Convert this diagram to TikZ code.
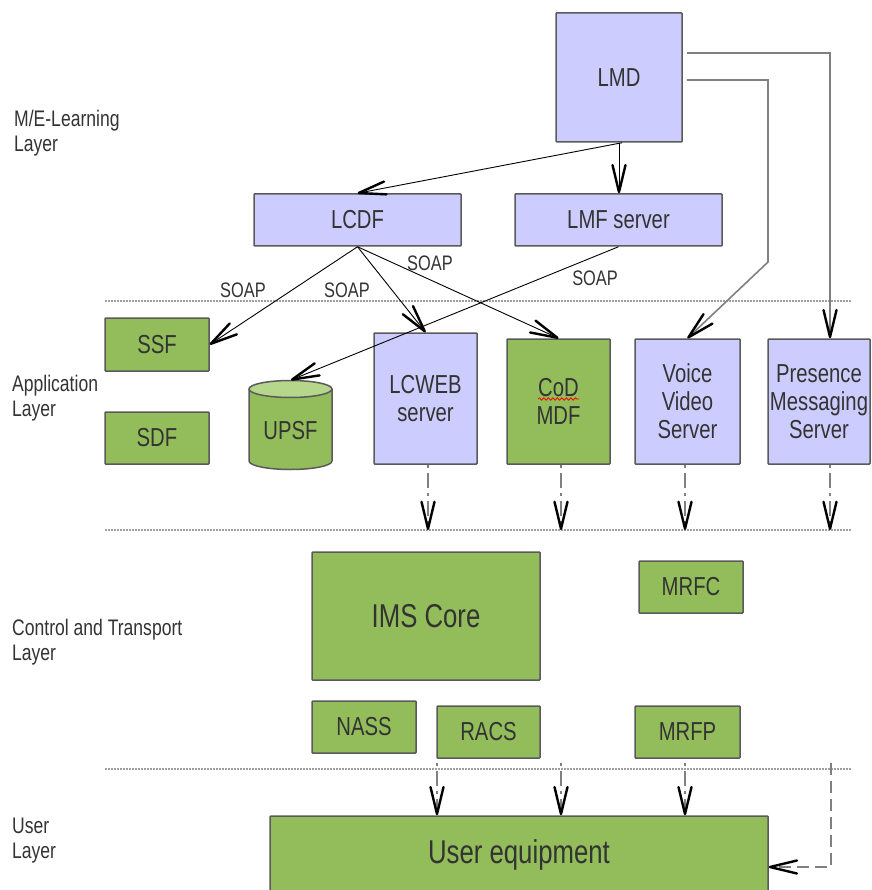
\documentclass[tikz,border=0pt]{standalone}
\usepackage{fontspec}
\setmainfont[FakeStretch=0.78]{Liberation Sans}
\usetikzlibrary{arrows.meta,decorations.pathmorphing}

\definecolor{lav}{HTML}{CCCCFF}
\definecolor{grn}{HTML}{92BD5A}
\definecolor{grnlt}{HTML}{B6D68C}
\definecolor{edge}{HTML}{5A5A5A}
\definecolor{ink}{HTML}{333333}
\definecolor{wire}{HTML}{808080}

\begin{document}
\begin{tikzpicture}[x=1pt,y=-1pt,
  font=\fontsize{26}{28}\selectfont,
  box/.style={draw=edge, line width=1.5pt, text=ink, inner sep=0pt, align=center, rounded corners=0.8pt},
  lavbox/.style={box, fill=lav},
  grnbox/.style={box, fill=grn},
  headed/.style={-{Straight Barb[length=27pt,width=13pt,line width=2.4pt,round,color=black]}},
  link/.style={headed, line width=0.9pt, draw=black},
  feed/.style={headed, line width=1.6pt, draw=wire},
  dashlink/.style={headed, line width=1.4pt, draw=wire, dash pattern=on 3pt off 5pt on 15pt off 5pt},
  dashfeed/.style={headed, line width=1.4pt, draw=wire, dash pattern=on 12pt off 6pt},
  layerline/.style={draw=gray!75, line width=1.5pt, dash pattern=on 1.5pt off 1.5pt},
  layername/.style={text=ink, align=left, anchor=base west, inner sep=0pt, font=\fontsize{22.5}{25}\selectfont},
  soap/.style={text=ink, inner sep=0pt, font=\fontsize{21}{21}\selectfont},
]
\useasboundingbox (0,0) rectangle (871,890);
\clip (0,0) rectangle (871,890);

% layer separators
\coordinate (sepA-l) at (105,301); \coordinate (sepA-r) at (852,301);
\coordinate (sepB-l) at (105,530); \coordinate (sepB-r) at (852,530);
\coordinate (sepC-l) at (105,769); \coordinate (sepC-r) at (852,769);
\draw[layerline] (sepA-l) -- (sepA-r);
\draw[layerline] (sepB-l) -- (sepB-r);
\draw[layerline] (sepC-l) -- (sepC-r);

% layer names
\node[layername] (lbl-ml)   at (14,152) {M/E-Learning\\Layer};
\node[layername] (lbl-app)  at (12,416) {Application\\Layer};
\node[layername] (lbl-ct)   at (12,660) {Control and Transport\\Layer};
\node[layername] (lbl-user) at (12,858) {User\\Layer};

% M/E-learning layer
\node[lavbox, minimum width=126pt, minimum height=129pt] (lmd)  at (619,77.5) {LMD};
\node[lavbox, minimum width=207pt, minimum height=52pt]  (lcdf) at (357.5,220) {LCDF};
\node[lavbox, minimum width=207pt, minimum height=52pt]  (lmf)  at (618.5,220) {LMF server};

% application layer
\node[grnbox, minimum width=104pt, minimum height=53pt]  (ssf)   at (157,344.5) {SSF};
\node[grnbox, minimum width=104pt, minimum height=52pt]  (sdf)   at (157,438) {SDF};
\node[lavbox, minimum width=103pt, minimum height=131pt] (lcweb) at (425.5,398.5) {LCWEB\\server};
\node[grnbox, minimum width=103pt, minimum height=125pt] (cod)   at (558.5,401.5) {CoD\\MDF};
\node[lavbox, minimum width=105pt, minimum height=125pt] (voice) at (687.5,401.5) {Voice\\Video\\Server};
\node[lavbox, minimum width=102pt, minimum height=125pt] (pres)  at (819,401.5) {Presence\\Messaging\\Server};
\draw[red, line width=0.8pt, decorate, decoration={snake, amplitude=1.2pt, segment length=4.5pt}] (538,399) -- (579,399);

% UPSF database cylinder
\fill[grn] (249,389) -- (249,461) arc[start angle=180, end angle=360, x radius=41.5pt, y radius=8.5pt] -- (332,389) -- cycle;
\draw[edge, line width=1.5pt] (249,389) -- (249,461) arc[start angle=180, end angle=360, x radius=41.5pt, y radius=8.5pt] -- (332,389);
\filldraw[fill=grnlt, draw=edge, line width=1.5pt] (290.5,389) ellipse[x radius=41.5pt, y radius=8.5pt];
\node[text=ink, inner sep=0pt] (upsf) at (290.5,431) {UPSF};
\coordinate (upsftop) at (291,380);

% control and transport layer
\node[grnbox, minimum width=228pt, minimum height=128pt, font=\fontsize{33}{36}\selectfont] (ims) at (426,616) {IMS Core};
\node[grnbox, minimum width=104pt, minimum height=52pt] (mrfc) at (691,587) {MRFC};
\node[grnbox, minimum width=104pt, minimum height=52pt] (nass) at (364,727) {NASS};
\node[grnbox, minimum width=103pt, minimum height=52pt] (racs) at (488.5,732) {RACS};
\node[grnbox, minimum width=105pt, minimum height=52pt] (mrfp) at (687.5,732) {MRFP};

% user layer
\node[grnbox, minimum width=498pt, minimum height=78pt, font=\fontsize{33}{36}\selectfont] (ue) at (519,855) {User equipment};

% LMD links
\draw[link] ([xshift=3pt]lmd.south) -- (lcdf.north);
\draw[link] (lmd.south) -- (lmd.south |- lmf.north);
\draw[feed] ([shift={(4pt,24.5pt)}]lmd.east) -| ([xshift=11pt]pres.north);
\coordinate (bendV) at (768,262);
\draw[feed] ([shift={(4pt,-2.5pt)}]lmd.east) -| (bendV) -- (voice.north);

% SOAP links
\draw[link] (lcdf.south) -- (ssf.east);
\draw[link] (lcdf.south) -- (lcweb.north);
\draw[link] (lcdf.south) -- (cod.north);
\draw[link] (lmf.south) -- (upsftop);
\node[soap] (soap1) at (243,290) {SOAP};
\node[soap] (soap2) at (347,290) {SOAP};
\node[soap] (soap3) at (430,263) {SOAP};
\node[soap] (soap4) at (595,278) {SOAP};

% application to control layer
\coordinate (dA) at ([xshift=2.5pt]lcweb.south);
\coordinate (dB) at ([xshift=2.5pt]cod.south);
\coordinate (dC) at ([xshift=-2.5pt]voice.south);
\coordinate (dD) at ([xshift=11pt]pres.south);
\draw[dashlink] (dA) -- (dA |- sepB-l);
\draw[dashlink] (dB) -- (dB |- sepB-l);
\draw[dashlink] (dC) -- (dC |- sepB-l);
\draw[dashlink] (dD) -- (dD |- sepB-l);

% control to user layer
\coordinate (uA) at (437,763);
\coordinate (uB) at (561,763);
\coordinate (uC) at (685,763);
\coordinate (uD) at (831,763);
\draw[dashlink] (uA) -- (uA |- ue.north);
\draw[dashlink] (uB) -- (uB |- ue.north);
\draw[dashlink] (uC) -- (uC |- ue.north);
\draw[dashfeed] (uD) |- ([yshift=-12pt]ue.east);
\end{tikzpicture}
\end{document}
